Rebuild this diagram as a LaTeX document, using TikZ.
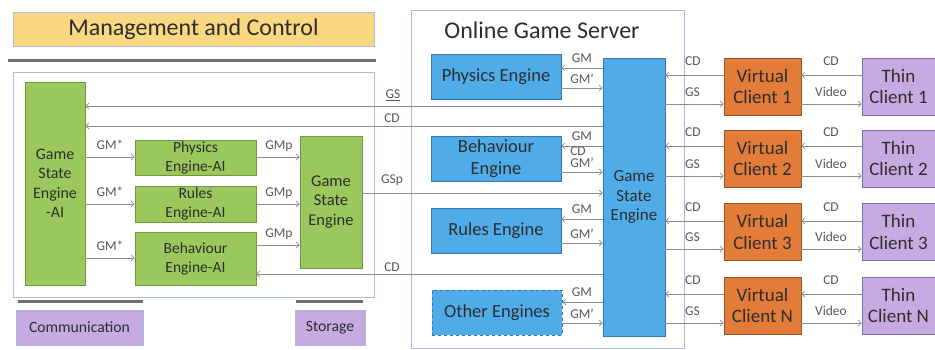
\documentclass[tikz,border=0pt]{standalone}
\usepackage{fontspec}
\setmainfont{Carlito}
\usetikzlibrary{arrows.meta}
\definecolor{mcyellow}{RGB}{250,216,130}
\definecolor{aigreen}{RGB}{155,200,92}
\definecolor{aigreenline}{RGB}{112,150,62}
\definecolor{engblue}{RGB}{80,172,232}
\definecolor{engblueline}{RGB}{52,118,178}
\definecolor{vcorange}{RGB}{226,124,56}
\definecolor{vcorangeline}{RGB}{150,84,42}
\definecolor{tcpurple}{RGB}{200,170,226}
\definecolor{tcpurpleline}{RGB}{128,112,170}
\definecolor{framecol}{RGB}{172,186,220}
\definecolor{wirecol}{RGB}{140,140,140}
\definecolor{txtcol}{RGB}{45,45,45}
\begin{document}
\begin{tikzpicture}[x=1pt,y=-1pt]
  \tikzset{ box/.style={draw,line width=0.8pt,inner sep=1pt,align=center,text=txtcol},
    gbox/.style={box,fill=aigreen,draw=aigreenline,font=\fontsize{15.5}{19}\selectfont},
    bbox/.style={box,fill=engblue,draw=engblueline,minimum width=130pt,minimum height=45pt,font=\fontsize{18.5}{22}\selectfont},
    obox/.style={box,fill=vcorange,draw=vcorangeline,minimum width=77pt,minimum height=57pt,font=\fontsize{19}{21.5}\selectfont},
    pbox/.style={box,fill=tcpurple,draw=tcpurpleline,minimum width=73pt,minimum height=57pt,font=\fontsize{19}{21.5}\selectfont},
    arr/.style={draw=wirecol,line width=0.7pt,-{Straight Barb[length=3pt,width=6pt]}},
    lab/.style={text=txtcol!80,inner sep=0pt,font=\fontsize{13.5}{15}\selectfont},
    bar/.style={draw={rgb,255:red,110;green,110;blue,110},line width=3pt},
  }
  \useasboundingbox (0,0) rectangle (935,349);
  % management side
  \node[box,fill=mcyellow,draw=framecol,minimum width=361pt,minimum height=34pt,
    font=\fontsize{24}{26}\selectfont] (mc) at (193.5,29) {Management and Control};
  \draw[bar] (8,60) -- (376,60);
  \draw[framecol,line width=0.8pt] (13,72) rectangle (374,297);
  \node[gbox,minimum width=60pt,minimum height=203pt,font=\fontsize{16}{19.5}\selectfont] (gseai) at (55,183.5) {Game\\State\\Engine\\-AI};
  \node[gbox,minimum width=121pt,minimum height=35pt] (peai) at (195.5,157.5) {Physics\\Engine-AI};
  \node[gbox,minimum width=121pt,minimum height=36pt] (reai) at (195.5,204) {Rules\\Engine-AI};
  \node[gbox,minimum width=121pt,minimum height=53pt] (beai) at (195.5,258.5) {Behaviour\\Engine-AI};
  \node[gbox,minimum width=62pt,minimum height=132pt,font=\fontsize{16.5}{19.5}\selectfont] (gsel) at (331,202) {Game\\State\\Engine};
  \draw[bar] (18,301) -- (143,301);
  \draw[bar] (296,301) -- (363,301);
  \node[box,fill=tcpurple,draw=framecol,minimum width=127pt,minimum height=35pt,
    font=\fontsize{15.7}{18}\selectfont] (comm) at (79.5,327.5) {Communication};
  \node[box,fill=tcpurple,draw=framecol,minimum width=70pt,minimum height=35pt,
    font=\fontsize{15.7}{18}\selectfont] (stor) at (330,327.5) {Storage};
  % server side
  \draw[framecol,line width=0.8pt] (411,10) rectangle (684,348);
  \node[text=txtcol,font=\fontsize{24}{26}\selectfont] (ogs) at (542,30) {Online Game Server};
  \node[bbox] (pe) at (496,76.5) {Physics Engine};
  \node[bbox] (be) at (496,158.5) {Behaviour\\Engine};
  \node[bbox] (re) at (496,230.5) {Rules Engine};
  \node[bbox,dashed] (oe) at (497,312.5) {Other Engines};
  \node[bbox,minimum width=62pt,minimum height=278pt,font=\fontsize{17}{19.5}\selectfont] (gse) at (634,197) {Game\\State\\Engine};
  % clients
  \node[obox] (vc1) at (762.5,86.5) {Virtual\\Client 1};
  \node[obox] (vc2) at (762.5,158.5) {Virtual\\Client 2};
  \node[obox] (vc3) at (762.5,232) {Virtual\\Client 3};
  \node[obox] (vcN) at (762.5,305.5) {Virtual\\Client N};
  \node[pbox] (tc1) at (898.5,86.5) {Thin\\Client 1};
  \node[pbox] (tc2) at (898.5,158.5) {Thin\\Client 2};
  \node[pbox] (tc3) at (898.5,232) {Thin\\Client 3};
  \node[pbox] (tcN) at (898.5,305.5) {Thin\\Client N};

  % AI side connections
  \foreach \e/\y in {peai/157,reai/204,beai/258}{
    \draw[arr] (gseai.east |- 0,\y) -- (\e.west |- 0,\y);
    \node[lab] at (110,\y-12) {GM*};
  }
  \foreach \e/\y in {peai/157,reai/204,beai/245}{
    \draw[arr] (\e.east |- 0,\y) -- (gsel.west |- 0,\y);
    \node[lab] at (279,\y-11) {GMp};
  }
  % long lines across
  \draw[arr] (gse.west |- 0,106) -- (gseai.east |- 0,106);
  \node[lab] at (393,95) {\underline{GS}};
  \draw[arr] (gse.west |- 0,126) -- (gseai.east |- 0,126);
  \node[lab] at (392,118) {CD};
  \draw[arr] (gsel.east |- 0,193) -- (gse.west |- 0,193);
  \node[lab] at (392,180) {GSp};
  \draw[arr] (gse.west |- 0,274) -- (beai.east |- 0,274);
  \node[lab] at (392,267) {CD};

  % engines
  \foreach \e/\a/\b in {pe/68/88,be/146/172,re/219/243,oe/302/323}{
    \draw[arr] (gse.west |- 0,\a) -- (\e.east |- 0,\a);
    \draw[arr] (\e.east |- 0,\b) -- (gse.west |- 0,\b);
    \node[lab] at (582,\a-10) {GM};
    \node[lab] at (582,\b-9) {GM'};
  }
  \node[lab] at (578,151.5) {CD};

  % clients
  \foreach \v/\t/\a/\b in {vc1/tc1/75/104,vc2/tc2/146/176,vc3/tc3/221/249,vcN/tcN/294/323}{
    \draw[arr] (\v.west |- 0,\a) -- (gse.east |- 0,\a);
    \draw[arr] (gse.east |- 0,\b) -- (\v.west |- 0,\b);
    \draw[arr] (\t.west |- 0,\a) -- (\v.east |- 0,\a);
    \draw[arr] (\v.east |- 0,\b) -- (\t.west |- 0,\b);
    \node[lab,anchor=west] at (685,\a-14) {CD};
    \node[lab,anchor=west] at (685,\b-12) {GS};
    \node[lab] at (831,\a-14) {CD};
    \node[lab] at (831,\b-12) {Video};
  }
\end{tikzpicture}
\end{document}
